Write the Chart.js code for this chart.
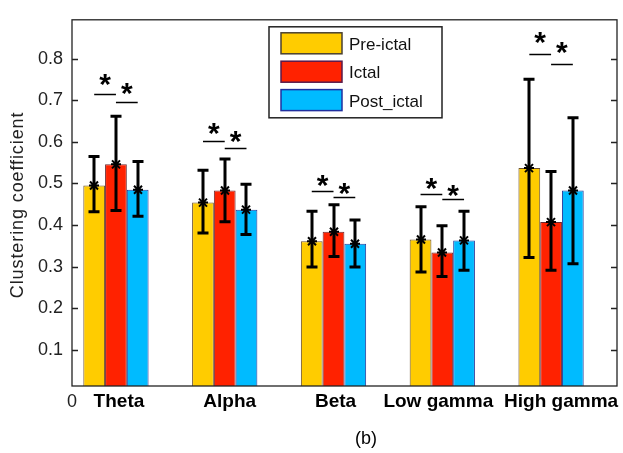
<!DOCTYPE html>
<html>
<head>
<meta charset="utf-8">
<script src="https://cdn.jsdelivr.net/npm/chart.js@4.4.1/dist/chart.umd.min.js"></script>
<style>
  html, body { margin: 0; padding: 0; background: #fff; }
  #wrap { width: 623px; height: 453px; }
</style>
</head>
<body>
<div id="wrap"><canvas id="chart" width="623" height="453"></canvas></div>
<script>
const bands = ['Theta', 'Alpha', 'Beta', 'Low gamma', 'High gamma'];
const phases = ['Pre-ictal', 'Ictal', 'Post_ictal'];

const preMean = [0.495, 0.454, 0.361, 0.365, 0.537];
const preLow  = [0.432, 0.381, 0.299, 0.287, 0.322];
const preHigh = [0.565, 0.532, 0.433, 0.444, 0.751];

const ictalMean = [0.546, 0.483, 0.384, 0.334, 0.407];
const ictalLow  = [0.435, 0.408, 0.324, 0.276, 0.291];
const ictalHigh = [0.662, 0.559, 0.449, 0.398, 0.529];

const postMean = [0.485, 0.437, 0.355, 0.363, 0.483];
const postLow  = [0.421, 0.377, 0.299, 0.291, 0.307];
const postHigh = [0.553, 0.498, 0.412, 0.433, 0.658];

// significance markers: pre vs ictal (A), ictal vs post (B)
const sigLineA = [0.716, 0.602, 0.483, 0.475, 0.812];
const sigStarA = [0.748, 0.630, 0.505, 0.498, 0.850];
const sigLineB = [0.695, 0.585, 0.467, 0.462, 0.787];
const sigStarB = [0.727, 0.612, 0.487, 0.483, 0.825];

const yTicks = [0.1, 0.2, 0.3, 0.4, 0.5, 0.6, 0.7, 0.8];

const FONT = '"Liberation Sans", Arial, Helvetica, sans-serif';
// the band labels sit a little off their group centres in the original
const labelShift = [3, 5, 2, -4, 10];

function points (values) {
  return values.map((v, i) => ({ x: i + 1, y: v }));
}

// error bars with the star marker at the mean
const errorBars = {
  id: 'errorBars',
  afterDatasetsDraw (chart) {
    const { ctx } = chart;
    const y = chart.scales.y;
    ctx.save();
    ctx.strokeStyle = '#000';
    ctx.lineCap = 'butt';
    chart.data.datasets.forEach((ds, di) => {
      chart.getDatasetMeta(di).data.forEach((bar, i) => {
        const x = Math.round(bar.x);
        const lo = y.getPixelForValue(ds.errLow[i]);
        const hi = y.getPixelForValue(ds.errHigh[i]);
        const m = y.getPixelForValue(ds.data[i].y);
        ctx.lineWidth = 3;
        ctx.beginPath();
        ctx.moveTo(x, lo); ctx.lineTo(x, hi);
        ctx.moveTo(x - 5.5, lo); ctx.lineTo(x + 5.5, lo);
        ctx.moveTo(x - 5.5, hi); ctx.lineTo(x + 5.5, hi);
        ctx.stroke();
        ctx.lineWidth = 2;
        ctx.beginPath();
        ctx.moveTo(x - 5, m); ctx.lineTo(x + 5, m);
        ctx.moveTo(x - 4, m - 4); ctx.lineTo(x + 4, m + 4);
        ctx.moveTo(x - 4, m + 4); ctx.lineTo(x + 4, m - 4);
        ctx.stroke();
      });
    });
    ctx.restore();
  }
};

const frame = {
  id: 'frame',
  afterDraw (chart) {
    const { ctx, chartArea: a } = chart;
    const x = chart.scales.x;
    const y = chart.scales.y;
    ctx.save();

    // significance lines and asterisks
    const m0 = chart.getDatasetMeta(0).data;
    const m1 = chart.getDatasetMeta(1).data;
    const m2 = chart.getDatasetMeta(2).data;
    ctx.strokeStyle = '#000';
    ctx.lineWidth = 1.5;
    ctx.fillStyle = '#000';
    ctx.font = 'bold 30px ' + FONT;
    ctx.textAlign = 'center';
    ctx.textBaseline = 'alphabetic';
    const sm = ctx.measureText('*');
    const off = (sm.actualBoundingBoxAscent - sm.actualBoundingBoxDescent) / 2;
    bands.forEach((b, i) => {
      const pairs = [
        [m0[i].x, m1[i].x, sigLineA[i], sigStarA[i]],
        [m1[i].x, m2[i].x, sigLineB[i], sigStarB[i]]
      ];
      pairs.forEach(([x1, x2, lv, sv]) => {
        const ly = Math.round(y.getPixelForValue(lv)) + 0.5;
        ctx.beginPath();
        ctx.moveTo(x1, ly); ctx.lineTo(x2, ly);
        ctx.stroke();
        ctx.fillText('*', (x1 + x2) / 2, y.getPixelForValue(sv) + off);
      });
    });

    // axes box and inward ticks
    ctx.strokeStyle = '#222';
    ctx.lineWidth = 1.3;
    ctx.strokeRect(a.left, a.top, a.right - a.left, a.bottom - a.top);
    ctx.beginPath();
    yTicks.forEach(t => {
      const py = Math.round(y.getPixelForValue(t)) + 0.5;
      ctx.moveTo(a.left, py); ctx.lineTo(a.left + 6, py);
      ctx.moveTo(a.right - 6, py); ctx.lineTo(a.right, py);
    });
    ctx.stroke();

    // band labels
    ctx.font = 'bold 19px ' + FONT;
    ctx.fillStyle = '#000';
    ctx.textAlign = 'center';
    ctx.textBaseline = 'middle';
    bands.forEach((b, i) => {
      ctx.fillText(b, x.getPixelForValue(i + 1) + labelShift[i], a.bottom + 16);
    });

    // legend
    const lx = a.left + 197, ly = a.top + 7, lw = 173, lh = 91;
    ctx.fillStyle = '#fff';
    ctx.fillRect(lx, ly, lw, lh);
    ctx.strokeStyle = '#222';
    ctx.lineWidth = 1.5;
    ctx.strokeRect(lx, ly, lw, lh);
    ctx.font = '17px ' + FONT;
    ctx.textAlign = 'left';
    ctx.textBaseline = 'alphabetic';
    chart.data.datasets.forEach((ds, di) => {
      const sy = ly + 6 + di * 28.4;
      ctx.fillStyle = ds.backgroundColor;
      ctx.fillRect(lx + 12, sy, 61, 21);
      ctx.strokeStyle = ds.legendBorder;
      ctx.lineWidth = 1.5;
      ctx.strokeRect(lx + 12, sy, 61, 21);
      ctx.fillStyle = '#111';
      ctx.fillText(ds.label, lx + 80, sy + 17);
    });

    // y axis title
    ctx.save();
    ctx.translate(23, (a.top + a.bottom) / 2 + 2);
    ctx.rotate(-Math.PI / 2);
    ctx.font = '18px ' + FONT;
    ctx.letterSpacing = '0.9px';
    ctx.fillStyle = '#222';
    ctx.textAlign = 'center';
    ctx.fillText('Clustering coefficient', 0, 0);
    ctx.restore();

    // origin label and panel tag
    ctx.font = '18px ' + FONT;
    ctx.fillStyle = '#222';
    ctx.textAlign = 'center';
    ctx.textBaseline = 'middle';
    ctx.fillText('0', a.left, a.bottom + 16);
    ctx.fillStyle = '#000';
    ctx.fillText('(b)', 366, 439);
    ctx.restore();
  }
};

new Chart(document.getElementById('chart'), {
  type: 'bar',
  data: {
    datasets: [
      {
        label: phases[0], data: points(preMean), errLow: preLow, errHigh: preHigh,
        backgroundColor: '#FFCC00', borderColor: '#6b5030', legendBorder: '#4a4030', borderWidth: 1
      },
      {
        label: phases[1], data: points(ictalMean), errLow: ictalLow, errHigh: ictalHigh,
        backgroundColor: '#FF2200', borderColor: '#6a2a30', legendBorder: '#5a1a4a', borderWidth: 1
      },
      {
        label: phases[2], data: points(postMean), errLow: postLow, errHigh: postHigh,
        backgroundColor: '#00BBFF', borderColor: '#2a3a9a', legendBorder: '#2030a0', borderWidth: 1
      }
    ]
  },
  options: {
    responsive: false,
    animation: false,
    events: [],
    categoryPercentage: 0.6,
    barPercentage: 1.0,
    layout: { padding: { left: 0, right: 6, top: 6, bottom: 0 } },
    plugins: {
      legend: { display: false },
      tooltip: { enabled: false }
    },
    scales: {
      x: {
        type: 'linear',
        min: 0.596,
        max: 5.606,
        offset: false,
        grid: { display: false, drawTicks: false },
        border: { display: false },
        afterBuildTicks: s => { s.ticks = bands.map((b, i) => ({ value: i + 1 })); },
        afterFit: s => { s.height = 67; },
        ticks: { display: false }
      },
      y: {
        min: 0.0125,
        max: 0.894,
        grid: { display: false, drawTicks: false },
        border: { display: false },
        afterBuildTicks: s => { s.ticks = yTicks.map(v => ({ value: v })); },
        afterFit: s => { s.width = 72; },
        ticks: {
          padding: 9,
          color: '#222',
          font: { family: FONT, size: 18 },
          callback: v => v.toFixed(1)
        }
      }
    }
  },
  plugins: [errorBars, frame]
});
</script>
</body>
</html>
